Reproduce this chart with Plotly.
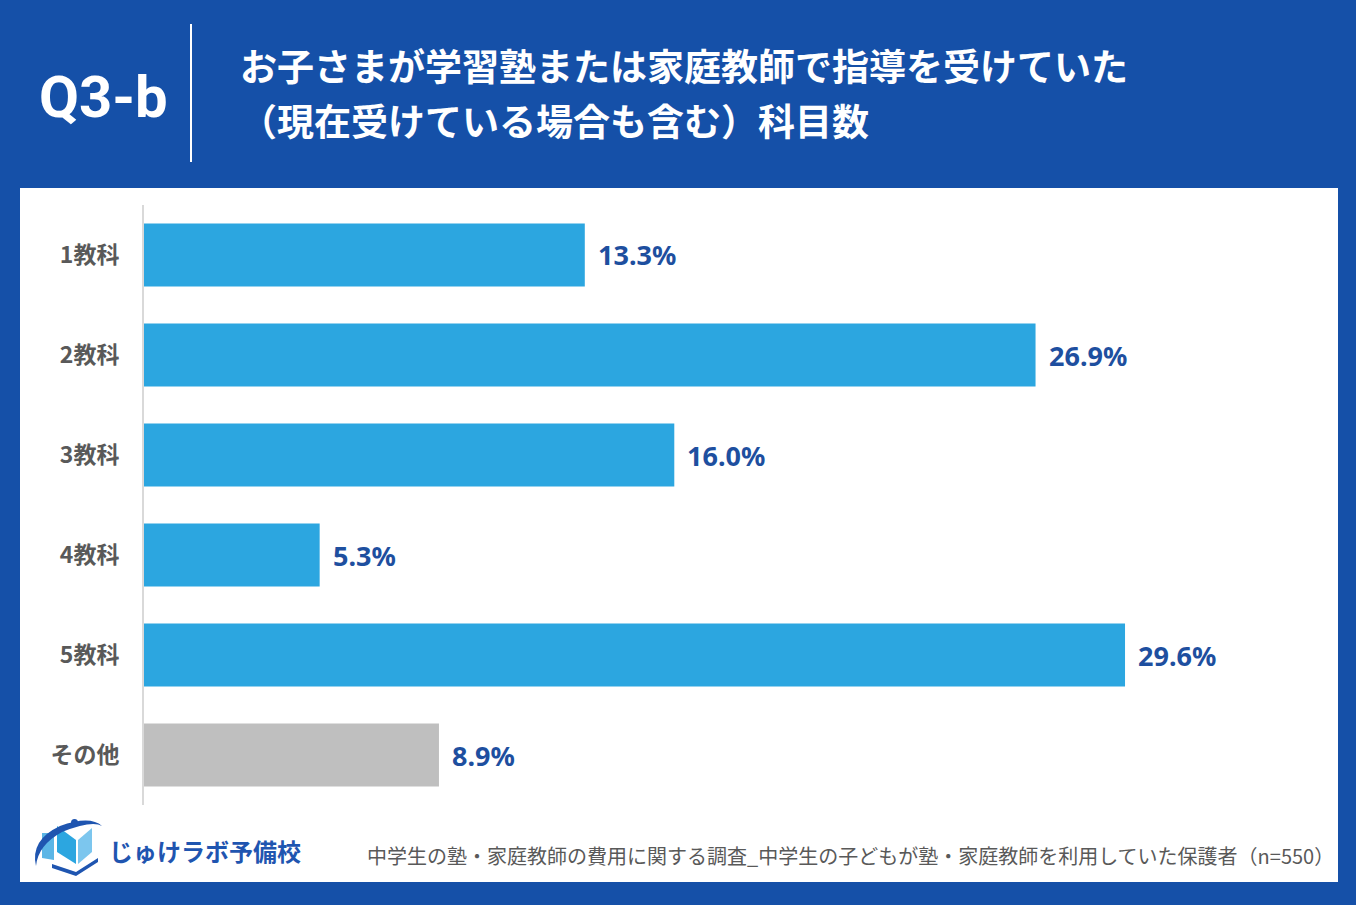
import plotly.graph_objects as go

W, H = 1356, 905

categories = ['1教科', '2教科', '3教科', '4教科', '5教科', 'その他']
values = [13.3, 26.9, 16.0, 5.3, 29.6, 8.9]
value_labels = ['13.3%', '26.9%', '16.0%', '5.3%', '29.6%', '8.9%']

BLUE_BG = '#1550a8'
BAR_BLUE = '#2ca6e0'
BAR_GRAY = '#bfbfbf'
LABEL_BLUE = '#1e4f9f'
TICK_GRAY = '#595959'
JP_FONT = 'Noto Sans CJK JP'


def px(x):
    return x / W


def py(y):
    return 1 - y / H


bar_colors = [BAR_GRAY if c == 'その他' else BAR_BLUE for c in categories]

fig = go.Figure(go.Bar(
    x=values,
    y=categories,
    orientation='h',
    width=0.63,
    marker=dict(color=bar_colors, line=dict(width=0)),
    hovertemplate='%{y}: %{x}%<extra></extra>',
))

# value labels to the right of each bar
for cat, val, lab in zip(categories, values, value_labels):
    fig.add_annotation(
        x=val, y=cat, xref='x', yref='y',
        text=lab, showarrow=False,
        xanchor='left', yanchor='middle', xshift=11,
        font=dict(family='Noto Sans, ' + JP_FONT, size=27, color=LABEL_BLUE, weight='bold'),
    )

shapes = [
    # white panel
    dict(type='rect', xref='paper', yref='paper',
         x0=px(20), x1=px(1338), y0=py(882), y1=py(188),
         fillcolor='white', line=dict(width=0), layer='below'),
    # divider in header
    dict(type='line', xref='paper', yref='paper',
         x0=px(191), x1=px(191), y0=py(24), y1=py(162),
         line=dict(color='white', width=2)),
    # logo: book pages
    dict(type='path', xref='paper', yref='paper',
         path=f'M {px(42)},{py(833)} L {px(54)},{py(833)} L {px(54)},{py(860)} L {px(42)},{py(858)} Z',
         fillcolor='#5cb6e6', line=dict(width=0)),
    dict(type='path', xref='paper', yref='paper',
         path=f'M {px(57)},{py(826)} L {px(76)},{py(840)} L {px(76)},{py(864)} L {px(57)},{py(852)} Z',
         fillcolor='#2ca6e0', line=dict(width=0)),
    dict(type='path', xref='paper', yref='paper',
         path=f'M {px(78)},{py(840)} L {px(92)},{py(828)} L {px(92)},{py(852)} L {px(78)},{py(864)} Z',
         fillcolor='#7cc6ee', line=dict(width=0)),
    # logo: swoosh
    dict(type='path', xref='paper', yref='paper',
         path=(f'M {px(36)},{py(866)} Q {px(30)},{py(840)} {px(60)},{py(826)} '
               f'Q {px(90)},{py(815)} {px(102)},{py(826)} '
               f'Q {px(92)},{py(820)} {px(62)},{py(832)} '
               f'Q {px(38)},{py(845)} {px(36)},{py(866)} Z'),
         fillcolor='#1f55b0', line=dict(width=0)),
    dict(type='path', xref='paper', yref='paper',
         path=(f'M {px(52)},{py(864)} L {px(76)},{py(872)} L {px(98)},{py(858)} '
               f'L {px(98)},{py(862)} L {px(76)},{py(876)} L {px(52)},{py(868)} Z'),
         fillcolor='#1f55b0', line=dict(width=0)),
    dict(type='circle', xref='paper', yref='paper',
         x0=px(71), x1=px(78), y0=py(826), y1=py(819),
         fillcolor='#1f55b0', line=dict(width=0)),
]

annotations_extra = [
    dict(x=px(37), y=py(97), xref='paper', yref='paper', text='Q3-b',
         showarrow=False, xanchor='left', yanchor='middle',
         font=dict(family='Roboto', size=58, color='white', weight='bold')),
    dict(x=px(238), y=py(65), xref='paper', yref='paper',
         text='お子さまが学習塾または家庭教師で指導を受けていた',
         showarrow=False, xanchor='left', yanchor='middle',
         font=dict(family=JP_FONT, size=37, color='white', weight='bold')),
    dict(x=px(238), y=py(120), xref='paper', yref='paper',
         text='（現在受けている場合も含む）科目数',
         showarrow=False, xanchor='left', yanchor='middle',
         font=dict(family=JP_FONT, size=37, color='white', weight='bold')),
    dict(x=px(107), y=py(850), xref='paper', yref='paper',
         text='じゅけラボ予備校',
         showarrow=False, xanchor='left', yanchor='middle',
         font=dict(family=JP_FONT, size=24, color='#1f55b0', weight='bold')),
    dict(x=px(1336), y=py(855), xref='paper', yref='paper',
         text='中学生の塾・家庭教師の費用に関する調査_中学生の子どもが塾・家庭教師を利用していた保護者（n=550）',
         showarrow=False, xanchor='right', yanchor='middle',
         font=dict(family=JP_FONT, size=20, color=TICK_GRAY)),
]
for a in annotations_extra:
    fig.add_annotation(**a)

fig.update_layout(
    width=W, height=H,
    margin=dict(l=0, r=0, t=0, b=0),
    paper_bgcolor=BLUE_BG,
    plot_bgcolor='white',
    showlegend=False,
    shapes=shapes,
    bargap=0.37,
    xaxis=dict(
        domain=[px(144), px(1304)],
        range=[0, 35],
        showgrid=False, zeroline=False, showticklabels=False, showline=False,
        fixedrange=True,
    ),
    yaxis=dict(
        domain=[py(805), py(205)],
        categoryorder='array', categoryarray=categories,
        autorange='reversed',
        showgrid=False, zeroline=False,
        showline=True, linecolor='#d9d9d9', linewidth=2,
        ticks='', ticklabelstandoff=18,
        tickfont=dict(family=JP_FONT, size=23, color=TICK_GRAY, weight='bold'),
        automargin=False,
        fixedrange=True,
    ),
)

# page body margin removed so the figure sits at the window's top-left corner
fig.write_html(
    'out.html',
    config=dict(displayModeBar=False),
    post_script="document.body.style.margin='0';document.body.style.overflow='hidden';"
                f"document.body.style.background='{BLUE_BG}';",
)
